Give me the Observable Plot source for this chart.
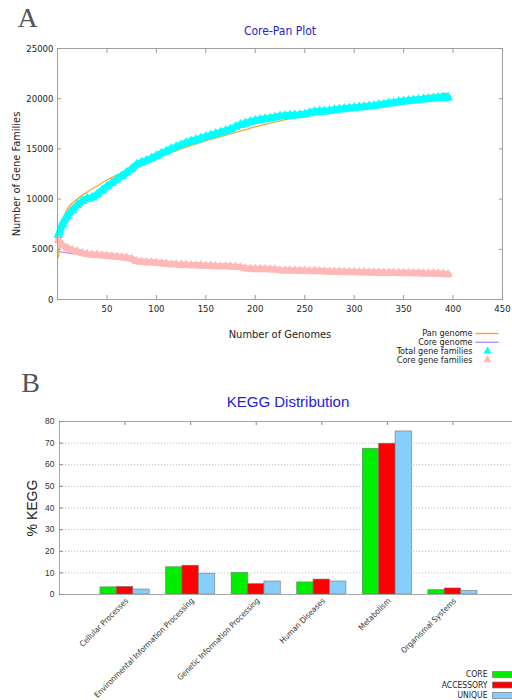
<!DOCTYPE html>
<html><head><meta charset="utf-8">
<script src="https://cdn.jsdelivr.net/npm/d3@7"></script>
<script src="https://cdn.jsdelivr.net/npm/@observablehq/plot@0.6"></script>
<style>
body{margin:0;background:#fff;}
#chart{width:512px;height:700px;overflow:hidden;}
#chart svg{display:block;}
</style></head><body><div id="chart"></div>
<script>
// ---------- Panel A data ----------
const genomes = [1,5,10,15,20,25,30,35,40,45,50,55,60,65,70,75,80,85,90,95,100,105,110,115,120,125,130,135,140,145,150,155,160,165,170,175,180,185,190,195,200,205,210,215,220,225,230,235,240,245,250,255,260,265,270,275,280,285,290,295,300,305,310,315,320,325,330,335,340,345,350,355,360,365,370,375,380,385,390,395];
const totalFamilies = [6400,7500,8300,8900,9400,9800,10050,10150,10450,10850,11250,11600,11950,12300,12650,13000,13450,13650,13850,14050,14300,14550,14750,15000,15200,15400,15600,15750,15900,16050,16200,16350,16500,16650,16800,16950,17200,17400,17550,17700,17800,17900,18000,18050,18150,18250,18300,18350,18350,18400,18450,18600,18700,18750,18750,18800,18900,18950,19000,19050,19100,19150,19200,19250,19300,19400,19450,19550,19600,19700,19750,19800,19850,19900,19950,20000,20050,20100,20150,20100];
const coreFamilies = [5900,5400,5100,4900,4780,4620,4520,4460,4440,4400,4350,4300,4250,4200,4150,4050,3800,3750,3700,3700,3650,3600,3550,3500,3500,3450,3450,3400,3400,3380,3350,3350,3320,3300,3300,3280,3250,3200,3100,3050,3050,3050,3030,3000,3000,2900,2900,2900,2880,2870,2860,2850,2840,2830,2800,2780,2770,2760,2750,2740,2730,2720,2710,2700,2690,2680,2670,2660,2660,2650,2640,2630,2620,2610,2600,2600,2590,2580,2570,2500];
const panFitX = [1,2,3,5,10,20,30,40,50,60,75,100,125,150,175,200,225,250,275,300,325,350,375,395];
const panFitY = [4200,5800,6700,7800,9000,10000,10700,11300,11900,12400,13100,14100,15000,15800,16500,17200,17800,18300,18800,19200,19600,20000,20300,20550];
const coreFitX = [1,10,25,50,75,100,150,200,250,300,350,395];
const coreFitY = [4750,4650,4450,4200,3950,3700,3350,3080,2880,2740,2640,2560];
const xTicksA = [50,100,150,200,250,300,350,400,450];
const yTicksA = [0,5000,10000,15000,20000,25000];
const legendA = ["Pan genome","Core genome","Total gene families","Core gene families"];

// ---------- Panel B data ----------
const keggCategories = ["Cellular Processes","Environmental Information Processing","Genetic Information Processing","Human Diseases","Metabolism","Organismal Systems"];
const keggSeries = ["CORE","ACCESSORY","UNIQUE"];
const coreKegg = [3.3,12.6,10.0,5.6,67.4,2.0];
const accessoryKegg = [3.5,13.3,4.8,6.9,69.7,2.8];
const uniqueKegg = [2.3,9.6,6.0,6.0,75.4,1.7];
const yTicksB = [0,10,20,30,40,50,60,70,80];
const gridTicksB = [10,20,30,40,50,60,70];

const seriesColors = ["#00ee00","#ff0000","#87cefa"];
const FONT = "'DejaVu Sans Condensed','DejaVu Sans',sans-serif";
const SANS = "'Liberation Sans',Arial,sans-serif";
const SERIF = "'Liberation Serif','DejaVu Serif',serif";
const CYAN = "#00ffff", PINK = "#ffb8b8", ORANGE = "#f0a830", PURPLE = "#b890f0";

const totalData = genomes.map((g,i)=>({g, v: totalFamilies[i]}));
const coreData = genomes.map((g,i)=>({g, v: coreFamilies[i]}));
const panFit = panFitX.map((g,i)=>({g, v: panFitY[i]}));
const coreFit = coreFitX.map((g,i)=>({g, v: coreFitY[i]}));

const lineSym = {draw(ctx){ ctx.moveTo(-11.5,0); ctx.lineTo(11.5,0); }};
const swatchSym = {draw(ctx){ ctx.rect(-12,-3,28,6); }};

const legendMarksA = [];
const legStyles = [
  {kind:"line", color:ORANGE},
  {kind:"line", color:PURPLE},
  {kind:"tri", color:CYAN},
  {kind:"tri", color:PINK}
];
const legDy = [34,42.8,51.6,60.4];
legendA.forEach((name,i)=>{
  legendMarksA.push(Plot.text([name], {frameAnchor:"bottom-right", dx:-30, dy:legDy[i], text:d=>d, textAnchor:"end", lineAnchor:"middle", fontSize:9, fill:"#222"}));
  const s = legStyles[i];
  if (s.kind === "line") {
    legendMarksA.push(Plot.dot([0], {frameAnchor:"bottom-right", dx:-15.5, dy:legDy[i], symbol: lineSym, r:1, fill:"none", stroke:s.color, strokeWidth:1.4}));
  } else {
    legendMarksA.push(Plot.dot([0], {frameAnchor:"bottom-right", dx:-15, dy:legDy[i], symbol:"triangle", r:3, fill:s.color, stroke:"none"}));
  }
});

const plotA = Plot.plot({
  width: 512, height: 365,
  marginTop: 48, marginBottom: 66, marginLeft: 57, marginRight: 10,
  x: {domain: [0,450], axis: null},
  y: {domain: [0,25000], axis: null},
  style: {fontFamily: FONT, background: "#fff", color: "#222"},
  marks: [
    Plot.line(panFit, {x:"g", y:"v", stroke:ORANGE, strokeWidth:1.3, curve:"monotone-x"}),
    Plot.line(coreFit, {x:"g", y:"v", stroke:PURPLE, strokeWidth:1.3, curve:"monotone-x"}),
    Plot.line(totalData, {x:"g", y:"v", stroke:CYAN, strokeWidth:7, curve:"linear"}),
    Plot.dot(totalData, {x:"g", y:"v", symbol:"triangle", r:3.7, fill:CYAN, stroke:"none"}),
    Plot.line(coreData, {x:"g", y:"v", stroke:PINK, strokeWidth:6.5, curve:"linear"}),
    Plot.dot(coreData, {x:"g", y:"v", symbol:"triangle", r:3.5, fill:PINK, stroke:"none"}),
    Plot.frame({stroke:"#a0a0a0"}),
    Plot.axisX({anchor:"bottom", ticks:xTicksA, tickSize:4, dy:-4, tickFormat:()=>"", stroke:"#999", label:null}),
    Plot.axisX({anchor:"top", ticks:xTicksA, tickSize:4, dy:4, tickFormat:()=>"", stroke:"#999", label:null}),
    Plot.axisY({anchor:"left", ticks:yTicksA, tickSize:4, dx:4, tickFormat:()=>"", stroke:"#999", label:null}),
    Plot.axisY({anchor:"right", ticks:yTicksA, tickSize:4, dx:-4, tickFormat:()=>"", stroke:"#999", label:null}),
    Plot.axisX({anchor:"bottom", ticks:xTicksA, tickSize:0, tickPadding:6, tickFormat:d=>String(d), fontSize:9.5, fill:"#222", label:null}),
    Plot.axisY({anchor:"left", ticks:yTicksA, tickSize:0, tickPadding:4, tickFormat:d=>String(d), fontSize:9.5, fill:"#222", label:null}),
    Plot.text(["Number of Genomes"], {frameAnchor:"bottom", dy:35, text:d=>d, textAnchor:"middle", lineAnchor:"middle", fontSize:11, fill:"#222"}),
    Plot.text(["Number of Gene Families"], {frameAnchor:"left", dx:-41, rotate:-90, text:d=>d, textAnchor:"middle", lineAnchor:"middle", fontSize:11, fill:"#222"}),
    Plot.text(["Core-Pan Plot"], {frameAnchor:"top", dy:-17, text:d=>d, textAnchor:"middle", lineAnchor:"middle", fontSize:12, fill:"#2424c8"}),
    Plot.text(["A"], {frameAnchor:"top-left", dx:-30, dy:-30, text:d=>d, textAnchor:"middle", lineAnchor:"middle", fontSize:28, fill:"#555", fontFamily:SERIF}),
    ...legendMarksA
  ]
});

// ---------- Panel B ----------
const seriesValues = [coreKegg, accessoryKegg, uniqueKegg];
const rows = [];
keggCategories.forEach((c,ci)=>{
  keggSeries.forEach((s,si)=>{
    rows.push({cat:c, ci, series:s, si, value: seriesValues[si][ci]});
  });
});
const barW = 0.25;

const legendMarksB = [];
const legDyB = [80,90.5,101];
keggSeries.forEach((s,i)=>{
  legendMarksB.push(Plot.text([s], {frameAnchor:"bottom-right", dx:-25, dy:legDyB[i], text:d=>d, textAnchor:"end", lineAnchor:"middle", fontSize:8.5, fill:"#222"}));
  legendMarksB.push(Plot.dot([0], {frameAnchor:"bottom-right", dx:-8, dy:legDyB[i], symbol: swatchSym, r:1, fill:seriesColors[i], stroke:"#777", strokeWidth:0.7}));
});

const plotB = Plot.plot({
  width: 512, height: 335,
  marginTop: 56, marginBottom: 106, marginLeft: 59, marginRight: 0,
  x: {domain: [0,7], range: [59,518], axis: null},
  y: {domain: [0,80], axis: null},
  color: {domain: keggSeries, range: seriesColors},
  style: {fontFamily: FONT, background:"#fff", color:"#222"},
  marks: [
    Plot.gridY({ticks: gridTicksB, stroke:"#bdbdbd", strokeOpacity:1, strokeDasharray:"1.2,1.8"}),
    Plot.rectY(rows, {
      x1: d => d.ci + 1 + (d.si - 1) * barW - barW/2,
      x2: d => d.ci + 1 + (d.si - 1) * barW + barW/2,
      y1: 0, y2: "value",
      fill: "series", stroke:"#6f6f6f", strokeWidth:0.7, strokeOpacity:0.8
    }),
    Plot.ruleY([0], {stroke:"#a8a8a8"}),
    Plot.ruleY([80], {stroke:"#a8a8a8"}),
    Plot.ruleX([0], {stroke:"#a8a8a8"}),
    Plot.axisX({anchor:"top", ticks:[1,2,3,4,5,6], tickSize:3, dy:3, tickFormat:()=>"", stroke:"#888", label:null}),
    Plot.axisY({anchor:"left", ticks:yTicksB, tickSize:4, dx:4, tickFormat:()=>"", stroke:"#888", label:null}),
    Plot.axisY({anchor:"left", ticks:yTicksB, tickSize:0, tickPadding:5, tickFormat:d=>String(d), fontSize:8.5, fill:"#333", fontFamily:SANS, label:null}),
    Plot.text(keggCategories, {x:(d,i)=>i+1, y:0, text:d=>d, rotate:-45, textAnchor:"end", dx:2, dy:5, fontSize:8, fill:"#333"}),
    Plot.text(["KEGG Distribution"], {frameAnchor:"top", dx:2, dy:-19.5, text:d=>d, textAnchor:"middle", lineAnchor:"middle", fontSize:15, fill:"#2020e0", fontFamily:SANS}),
    Plot.text(["% KEGG"], {frameAnchor:"left", dx:-27, rotate:-90, text:d=>d, textAnchor:"middle", lineAnchor:"middle", fontSize:14, fill:"#222", fontFamily:SANS}),
    Plot.text(["B"], {frameAnchor:"top-left", dx:-29, dy:-38, text:d=>d, textAnchor:"middle", lineAnchor:"middle", fontSize:28, fill:"#555", fontFamily:SERIF}),
    ...legendMarksB
  ]
});

const chart = document.getElementById("chart");
chart.appendChild(plotA);
chart.appendChild(plotB);
</script>
</body></html>
